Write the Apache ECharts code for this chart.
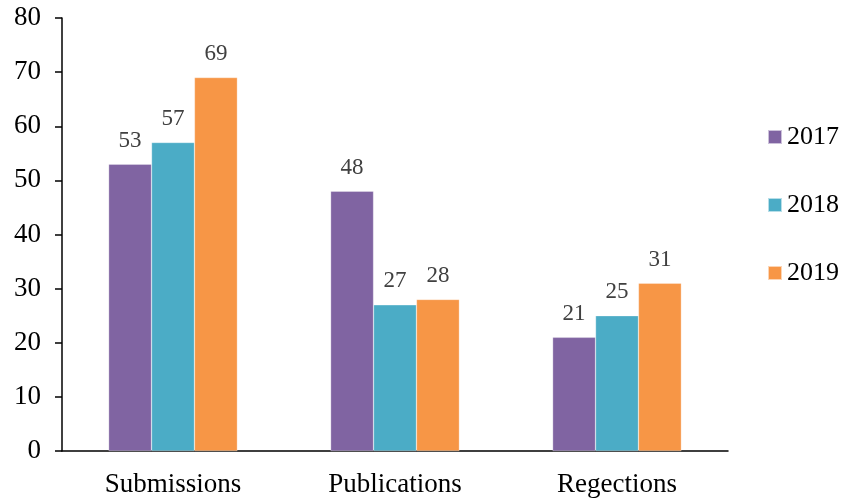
<!DOCTYPE html>
<html>
<head>
<meta charset="utf-8">
<script src="https://cdn.jsdelivr.net/npm/echarts@6/dist/echarts.min.js"></script>
<style>
  html, body { margin: 0; padding: 0; background: #fff; }
  #chart { width: 848px; height: 502px; }
</style>
</head>
<body>
<div id="chart"></div>
<script>
  var categories = ['Submissions', 'Publications', 'Regections']
  var years = ['2017', '2018', '2019']
  var values2017 = [53, 48, 21]
  var values2018 = [57, 27, 25]
  var values2019 = [69, 28, 31]
  var colors = ['#8064A2', '#4BACC6', '#F79646']

  var font = '"Liberation Serif", "DejaVu Serif", serif'
  var chart = echarts.init(document.getElementById('chart'), null, { renderer: 'canvas' })

  function barSeries(name, data, color) {
    return {
      name: name,
      type: 'bar',
      data: data,
      barGap: '0%',
      barCategoryGap: '42%',
      itemStyle: { color: color, borderColor: 'rgba(255,255,255,0.6)', borderWidth: 0.5 },
      label: {
        show: true,
        position: 'top',
        distance: 12,
        color: '#404040',
        fontFamily: font,
        fontSize: 23
      }
    }
  }

  chart.setOption({
    animation: false,
    textStyle: { fontFamily: font },
    grid: { left: 62, right: 120, top: 18, bottom: 51, containLabel: false },
    legend: {
      orient: 'vertical',
      right: 4,
      top: 119,
      itemWidth: 14,
      itemHeight: 14,
      itemGap: 42,
      icon: 'rect',
      textStyle: { fontFamily: font, fontSize: 26, color: '#000' },
      data: years
    },
    xAxis: {
      type: 'category',
      data: categories,
      axisLine: { lineStyle: { color: '#000', width: 1.5 } },
      axisTick: { show: false },
      axisLabel: { color: '#000', fontSize: 27, fontFamily: font, margin: 20 }
    },
    yAxis: {
      type: 'value',
      min: 0,
      max: 80,
      interval: 10,
      axisLine: { show: true, lineStyle: { color: '#000', width: 1.5 } },
      axisTick: { show: true, length: 7, lineStyle: { color: '#000', width: 1.5 } },
      splitLine: { show: false },
      axisLabel: { color: '#000', fontSize: 27, fontFamily: font, margin: 21 }
    },
    series: [
      barSeries(years[0], values2017, colors[0]),
      barSeries(years[1], values2018, colors[1]),
      barSeries(years[2], values2019, colors[2])
    ]
  })
</script>
</body>
</html>
